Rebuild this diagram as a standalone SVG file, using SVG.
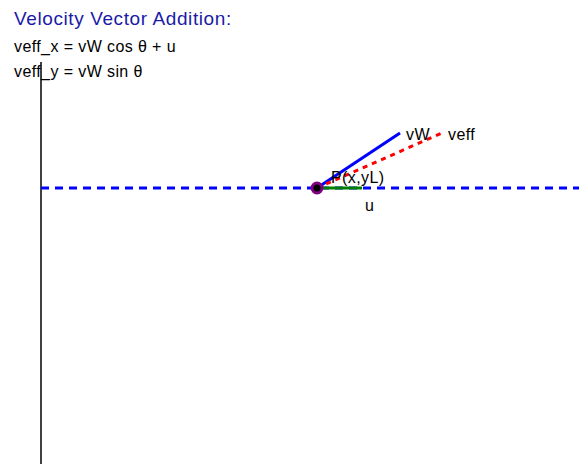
<svg xmlns="http://www.w3.org/2000/svg" width="579" height="464" viewBox="0 0 579 464">
<style>
text{font-family:"Liberation Sans",Arial,sans-serif;}
.t{font-size:16px;fill:#000;letter-spacing:0.4px;}
.title{font-size:19px;fill:#1a1aa8;letter-spacing:0.6px;}
</style>
<rect width="579" height="464" fill="#fff"/>
<g id="labels">
<text class="title" x="14" y="25">Velocity Vector Addition:</text>
<text class="t" x="14" y="52">veff_x = vW cos θ + u</text>
<text class="t" x="14" y="77">veff_y = vW sin θ</text>
</g>
<g id="connectors">
<line x1="41" y1="62" x2="41" y2="464" stroke="#000" stroke-width="1.5"/>
<line x1="41" y1="188" x2="579" y2="188" stroke="#0000ff" stroke-width="3" stroke-dasharray="8,6"/>
<line x1="317" y1="188" x2="400" y2="133" stroke="#0000ff" stroke-width="3"/>
<line x1="317" y1="188" x2="442" y2="133" stroke="#ff0000" stroke-width="3" stroke-dasharray="5,5"/>
<line x1="317" y1="188" x2="362" y2="188" stroke="#008000" stroke-width="3"/>
</g>
<g id="point">
<circle cx="317" cy="188" r="5" fill="#000" stroke="#800080" stroke-width="3"/>
<text class="t" x="331" y="183">P(x,yL)</text>
</g>
<g id="vW"><text class="t" x="406" y="140">vW</text></g>
<g id="veff"><text class="t" x="448" y="140">veff</text></g>
<g id="u"><text class="t" x="365" y="211">u</text></g>
</svg>
